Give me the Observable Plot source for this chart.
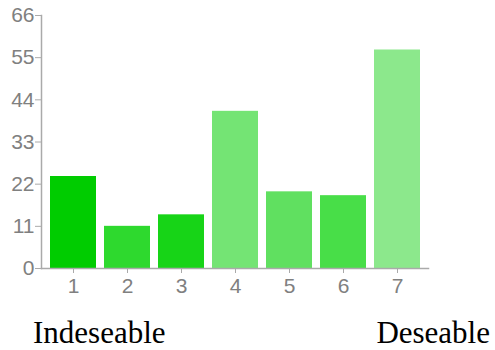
<!DOCTYPE html>
<html>
<head>
<meta charset="utf-8">
<script src="https://cdn.jsdelivr.net/npm/d3@7"></script>
<script src="https://cdn.jsdelivr.net/npm/@observablehq/plot@0.6"></script>
<style>
  html, body { margin: 0; padding: 0; background: #fff; overflow: hidden; }
  #chart svg { display: block; }
  #labels {
    width: 495px; box-sizing: border-box;
    display: flex; justify-content: space-between;
    padding-left: 33px; padding-right: 5px;
    margin-top: 17px;
    font-family: "Liberation Serif", "Times New Roman", serif;
    font-size: 31px; line-height: 32px; color: #000;
  }
</style>
</head>
<body>
<div id="chart"></div>
<div id="labels"><span id="left"></span><span id="right"></span></div>
<script>
const categories = ["1", "2", "3", "4", "5", "6", "7"];
const counts = [24, 11, 14, 41, 20, 19, 57];
const colors = ["#00cc00", "#2ed92e", "#17d417", "#74e474", "#60e060", "#48de48", "#8ce88c"];
const yTicks = [0, 11, 22, 33, 44, 55, 66];
const leftLabel = "Indeseable";
const rightLabel = "Deseable";

const data = categories.map((c, i) => ({cat: c, count: counts[i]}));

const chart = Plot.plot({
  width: 495,
  height: 300,
  marginLeft: 41,
  marginRight: 67,
  marginTop: 15,
  marginBottom: 32,
  style: {fontFamily: "Arial, 'Liberation Sans', sans-serif", fontSize: "20px", background: "#fff"},
  x: {domain: categories, padding: 0.14, label: null, axis: null},
  y: {domain: [0, 66], label: null, axis: null},
  color: {domain: categories, range: colors},
  marks: [
    Plot.barY(data, {x: "cat", y: "count", fill: "cat", dx: 1}),
    Plot.frame({anchor: "left", stroke: "#aaa", strokeWidth: 1.5}),
    Plot.frame({anchor: "bottom", stroke: "#aaa", strokeWidth: 1.5}),
    Plot.axisY({ticks: yTicks, tickSize: 6, tickPadding: 1, stroke: "#aaa", fill: "#808080", fontSize: 21, label: null}),
    Plot.axisX({tickSize: 5, tickPadding: 5, dx: 1, stroke: "#aaa", fill: "#808080", fontSize: 21, label: null})
  ]
});
document.getElementById("chart").appendChild(chart);
document.getElementById("left").textContent = leftLabel;
document.getElementById("right").textContent = rightLabel;
</script>
</body>
</html>
